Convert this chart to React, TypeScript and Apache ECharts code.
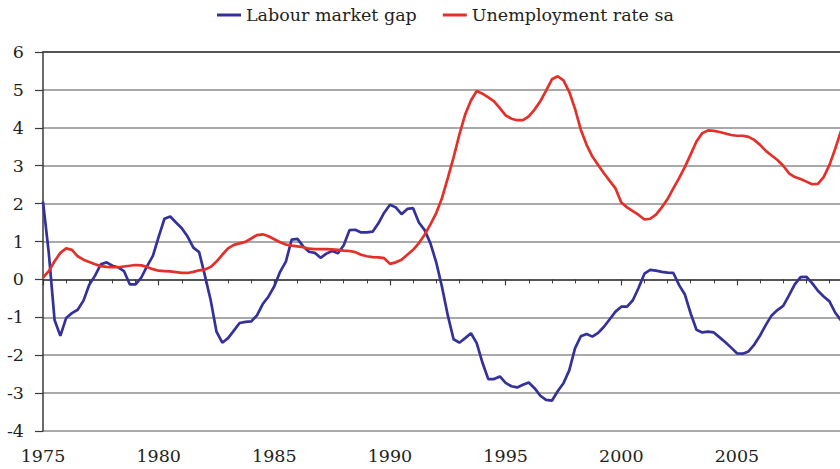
import React, { useEffect, useRef } from "react";
import * as echarts from "echarts";

const startYear = 1975;
const quarterStep = 0.25;

const xTickLabels = ["1975", "1980", "1985", "1990", "1995", "2000", "2005"];
const yTickLabels = ["-4", "-3", "-2", "-1", "0", "1", "2", "3", "4", "5", "6"];

const seriesNames = ["Labour market gap", "Unemployment rate sa"];

const labourMarketGap = [
  2.05, 0.7, -1.07, -1.49, -1.02, -0.89, -0.8, -0.56,
  -0.14, 0.1, 0.4, 0.45, 0.36, 0.32, 0.22, -0.13,
  -0.13, 0.05, 0.35, 0.62, 1.12, 1.6, 1.66, 1.5,
  1.35, 1.13, 0.84, 0.72, 0.1, -0.55, -1.38, -1.67,
  -1.55, -1.35, -1.15, -1.12, -1.11, -0.95, -0.65, -0.45,
  -0.18, 0.2, 0.47, 1.05, 1.07, 0.87, 0.73, 0.7,
  0.57, 0.68, 0.75, 0.69, 0.9, 1.3, 1.31, 1.24,
  1.24, 1.26, 1.48, 1.76, 1.97, 1.9, 1.72, 1.86,
  1.88, 1.5, 1.3, 0.95, 0.45, -0.2, -0.95, -1.58,
  -1.67, -1.55, -1.42, -1.68, -2.2, -2.63, -2.63, -2.56,
  -2.73, -2.82, -2.85, -2.78, -2.72, -2.87, -3.07, -3.18,
  -3.2, -2.95, -2.74, -2.4, -1.82, -1.5, -1.44, -1.51,
  -1.41, -1.25, -1.05, -0.85, -0.72, -0.72, -0.55, -0.22,
  0.15, 0.25, 0.23, 0.2, 0.18, 0.17, -0.15, -0.4,
  -0.9, -1.33, -1.4, -1.38, -1.4, -1.53, -1.66, -1.8,
  -1.95, -1.96, -1.9, -1.72, -1.48, -1.2, -0.95, -0.81,
  -0.7, -0.42, -0.13, 0.06, 0.07, -0.1, -0.3, -0.45,
  -0.58, -0.88, -1.08,
];

const unemploymentRate = [
  0.05, 0.22, 0.48, 0.7, 0.82, 0.78, 0.61, 0.52,
  0.46, 0.4, 0.35, 0.33, 0.32, 0.32, 0.34, 0.36,
  0.38, 0.37, 0.33, 0.27, 0.23, 0.22, 0.21, 0.19,
  0.17, 0.17, 0.2, 0.24, 0.26, 0.33, 0.47, 0.65,
  0.82, 0.91, 0.95, 0.99, 1.08, 1.17, 1.19, 1.14,
  1.06, 0.98, 0.92, 0.89, 0.87, 0.85, 0.81, 0.8,
  0.8, 0.8, 0.79, 0.78, 0.76, 0.75, 0.72, 0.65,
  0.61, 0.59, 0.58, 0.56, 0.41, 0.45, 0.52, 0.65,
  0.78, 0.96, 1.18, 1.45, 1.75, 2.15, 2.67, 3.22,
  3.82, 4.35, 4.72, 4.97, 4.9, 4.8, 4.7, 4.52,
  4.33, 4.24, 4.2, 4.2, 4.3, 4.48, 4.7, 4.98,
  5.28, 5.36, 5.25, 4.95, 4.5, 3.95, 3.55, 3.24,
  3.02, 2.8, 2.6, 2.4, 2.03, 1.9, 1.8, 1.7,
  1.58, 1.6, 1.71, 1.9, 2.12, 2.4, 2.67, 2.97,
  3.3, 3.64, 3.86, 3.93, 3.92, 3.89, 3.85, 3.81,
  3.79, 3.79, 3.76, 3.68, 3.55, 3.39, 3.27, 3.15,
  3.0, 2.8, 2.7, 2.65, 2.58, 2.51, 2.52, 2.7,
  3.02, 3.45, 3.92,
];

const toPairs = (vals: number[]) =>
  vals.map((v, i) => [startYear + i * quarterStep, v]);

const FONT = "DejaVu Serif";
const TEXT = "#231f20";
const DARK = "#3a3a3a";
const GRID = "#8c8c8c";
const FS = 17.5;

export default function App() {
  const ref = useRef<HTMLDivElement>(null);

  useEffect(() => {
    if (!ref.current) return;
    const chart = echarts.init(ref.current, undefined, { renderer: "svg" });
    chart.setOption({
      animation: false,
      backgroundColor: "#ffffff",
      textStyle: { fontFamily: FONT },
      legend: {
        left: 212,
        top: 1,
        itemGap: 26,
        itemWidth: 24,
        itemHeight: 3,
        icon: "rect",
        textStyle: { fontFamily: FONT, fontSize: FS, color: TEXT },
        data: seriesNames,
      },
      grid: { left: 43, top: 52, width: 809.6, height: 379, containLabel: false },
      xAxis: [
        {
          type: "value",
          min: 1975,
          max: 2010,
          interval: 5,
          axisLine: { show: true, lineStyle: { color: DARK, width: 1.5 } },
          axisTick: { show: true, length: 6, lineStyle: { color: DARK, width: 1.2 } },
          minorTick: { show: true, splitNumber: 5, length: 4, lineStyle: { color: DARK, width: 1 } },
          splitLine: { show: false },
          axisLabel: {
            fontFamily: FONT,
            fontSize: FS,
            color: TEXT,
            margin: 16,
            formatter: (v: number) => (xTickLabels.includes(String(v)) ? String(v) : ""),
          },
        },
        {
          type: "value",
          position: "top",
          min: 1975,
          max: 2010,
          interval: 5,
          axisLine: { show: true, lineStyle: { color: DARK, width: 1.5 } },
          axisTick: { show: false },
          axisLabel: { show: false },
          splitLine: { show: false },
        },
      ],
      yAxis: {
        type: "value",
        min: -4,
        max: 6,
        interval: 1,
        axisLine: { show: true, lineStyle: { color: DARK, width: 1.5 } },
        axisTick: { show: true, length: 8, lineStyle: { color: DARK, width: 1.2 } },
        splitLine: { show: true, lineStyle: { color: GRID, width: 1.6 } },
        axisLabel: {
          fontFamily: FONT,
          fontSize: FS,
          color: TEXT,
          margin: 19,
          formatter: (v: number) => (yTickLabels.includes(String(v)) ? String(v) : ""),
        },
      },
      series: [
        {
          name: seriesNames[0],
          type: "line",
          xAxisIndex: 0,
          data: toPairs(labourMarketGap),
          showSymbol: false,
          symbol: "none",
          lineStyle: { color: "#34319a", width: 2.7 },
          itemStyle: { color: "#34319a" },
        },
        {
          name: seriesNames[1],
          type: "line",
          xAxisIndex: 0,
          data: toPairs(unemploymentRate),
          showSymbol: false,
          symbol: "none",
          lineStyle: { color: "#e3312a", width: 2.7 },
          itemStyle: { color: "#e3312a" },
        },
      ],
    });
    return () => chart.dispose();
  }, []);

  return (
    <div
      ref={ref}
      style={{ position: "fixed", left: 0, top: 0, width: 870, height: 469, background: "#fff" }}
    />
  );
}
